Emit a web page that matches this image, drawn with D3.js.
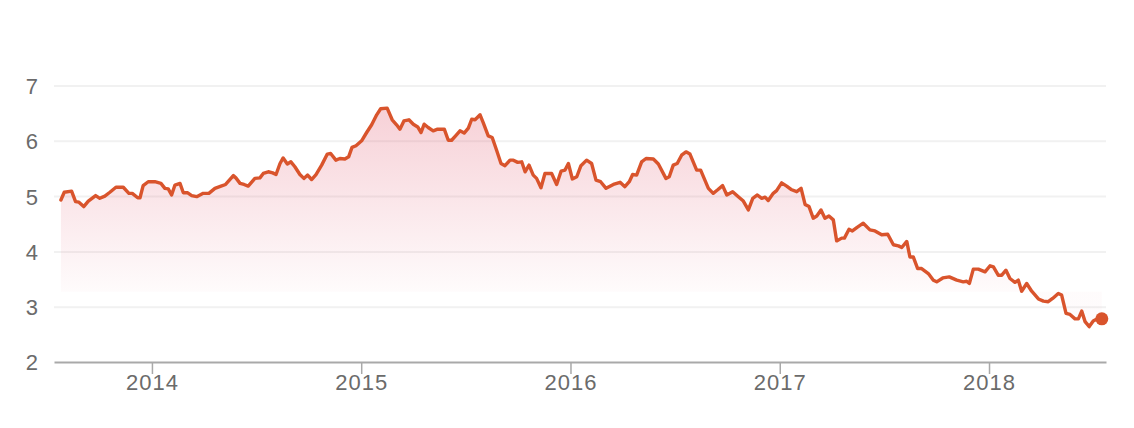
<!DOCTYPE html>
<html>
<head>
<meta charset="utf-8">
<script src="https://cdn.jsdelivr.net/npm/d3@7"></script>
<style>
    html, body { margin: 0; padding: 0; background: #fff; }
    svg { display: block; }
    .axis text {
        fill: #6b6b6b;
        font-family: "Liberation Sans", Arial, Helvetica, sans-serif;
        font-size: 22px;
        letter-spacing: 1px;
    }
</style>
</head>
<body>
<svg id="chart"></svg>
<script>
// =============================================================================
// DATA — decimal year / value
// =============================================================================

const years = [
    2013.565, 2013.581, 2013.616, 2013.635, 2013.651, 2013.674, 2013.696, 2013.731, 2013.751, 2013.775,
    2013.799, 2013.828, 2013.863, 2013.890, 2013.906, 2013.932, 2013.943, 2013.958, 2013.982, 2014.014,
    2014.043, 2014.062, 2014.078, 2014.094, 2014.110, 2014.134, 2014.150, 2014.171, 2014.190, 2014.214,
    2014.245, 2014.272, 2014.301, 2014.330, 2014.352, 2014.389, 2014.401, 2014.421, 2014.440, 2014.460,
    2014.492, 2014.516, 2014.532, 2014.556, 2014.577, 2014.593, 2014.612, 2014.627, 2014.647, 2014.664,
    2014.683, 2014.707, 2014.726, 2014.744, 2014.763, 2014.784, 2014.811, 2014.838, 2014.854, 2014.879,
    2014.898, 2014.922, 2014.940, 2014.956, 2014.975, 2015.002, 2015.026, 2015.050, 2015.074, 2015.093,
    2015.124, 2015.148, 2015.169, 2015.185, 2015.204, 2015.228, 2015.249, 2015.270, 2015.286, 2015.301,
    2015.320, 2015.344, 2015.365, 2015.397, 2015.416, 2015.432, 2015.451, 2015.472, 2015.492, 2015.512,
    2015.528, 2015.544, 2015.568, 2015.583, 2015.607, 2015.626, 2015.647, 2015.668, 2015.687, 2015.711,
    2015.727, 2015.748, 2015.767, 2015.783, 2015.802, 2015.822, 2015.838, 2015.859, 2015.878, 2015.910,
    2015.934, 2015.955, 2015.974, 2015.990, 2016.009, 2016.030, 2016.050, 2016.077, 2016.101, 2016.122,
    2016.144, 2016.170, 2016.205, 2016.237, 2016.260, 2016.281, 2016.297, 2016.316, 2016.340, 2016.361,
    2016.396, 2016.420, 2016.456, 2016.472, 2016.491, 2016.510, 2016.531, 2016.552, 2016.571, 2016.603,
    2016.622, 2016.659, 2016.682, 2016.702, 2016.727, 2016.747, 2016.775, 2016.802, 2016.826, 2016.850,
    2016.871, 2016.893, 2016.914, 2016.930, 2016.945, 2016.969, 2016.985, 2017.009, 2017.033, 2017.054,
    2017.081, 2017.102, 2017.121, 2017.140, 2017.160, 2017.177, 2017.197, 2017.216, 2017.235, 2017.256,
    2017.272, 2017.296, 2017.309, 2017.331, 2017.347, 2017.368, 2017.399, 2017.431, 2017.455, 2017.487,
    2017.516, 2017.543, 2017.567, 2017.583, 2017.607, 2017.622, 2017.638, 2017.659, 2017.678, 2017.710,
    2017.734, 2017.750, 2017.779, 2017.810, 2017.846, 2017.877, 2017.893, 2017.906, 2017.925, 2017.949,
    2017.981, 2018.005, 2018.021, 2018.044, 2018.061, 2018.081, 2018.100, 2018.124, 2018.140, 2018.156,
    2018.180, 2018.204, 2018.236, 2018.260, 2018.283, 2018.304, 2018.331, 2018.347, 2018.368, 2018.387,
    2018.411, 2018.427, 2018.443, 2018.459, 2018.479, 2018.498, 2018.522, 2018.539
];

const values = [
    4.93, 5.07, 5.09, 4.90, 4.89, 4.81, 4.91, 5.01, 4.96, 5.00,
    5.07, 5.16, 5.16, 5.05, 5.05, 4.97, 4.97, 5.19, 5.26, 5.26,
    5.23, 5.14, 5.13, 5.02, 5.20, 5.23, 5.06, 5.06, 5.01, 4.99,
    5.05, 5.05, 5.14, 5.18, 5.21, 5.37, 5.33, 5.23, 5.21, 5.18,
    5.32, 5.33, 5.41, 5.44, 5.42, 5.39, 5.59, 5.69, 5.58, 5.62,
    5.53, 5.39, 5.32, 5.38, 5.30, 5.39, 5.56, 5.76, 5.77, 5.65,
    5.68, 5.67, 5.71, 5.88, 5.91, 6.00, 6.15, 6.29, 6.47, 6.58,
    6.59, 6.38, 6.29, 6.21, 6.36, 6.38, 6.30, 6.25, 6.15, 6.30,
    6.24, 6.18, 6.21, 6.21, 6.01, 6.01, 6.09, 6.18, 6.14, 6.23,
    6.39, 6.38, 6.47, 6.33, 6.09, 6.06, 5.83, 5.59, 5.55, 5.65,
    5.65, 5.61, 5.62, 5.44, 5.56, 5.38, 5.32, 5.15, 5.41, 5.41,
    5.21, 5.45, 5.47, 5.59, 5.31, 5.35, 5.55, 5.65, 5.59, 5.29,
    5.26, 5.14, 5.21, 5.25, 5.17, 5.26, 5.39, 5.38, 5.62, 5.68,
    5.67, 5.58, 5.32, 5.35, 5.56, 5.59, 5.74, 5.80, 5.76, 5.47,
    5.47, 5.14, 5.05, 5.11, 5.19, 5.02, 5.08, 4.99, 4.91, 4.75,
    4.96, 5.02, 4.96, 4.98, 4.92, 5.05, 5.10, 5.24, 5.18, 5.12,
    5.08, 5.14, 4.85, 4.81, 4.60, 4.64, 4.75, 4.60, 4.64, 4.57,
    4.19, 4.24, 4.24, 4.40, 4.37, 4.43, 4.51, 4.39, 4.37, 4.30,
    4.31, 4.12, 4.10, 4.07, 4.18, 3.90, 3.90, 3.69, 3.69, 3.60,
    3.48, 3.45, 3.52, 3.54, 3.48, 3.45, 3.46, 3.42, 3.68, 3.68,
    3.63, 3.74, 3.72, 3.57, 3.57, 3.66, 3.51, 3.44, 3.48, 3.28,
    3.42, 3.28, 3.14, 3.10, 3.09, 3.15, 3.24, 3.21, 2.88, 2.86,
    2.78, 2.78, 2.92, 2.73, 2.64, 2.74, 2.79, 2.78
];

const xTicks = [2014, 2015, 2016, 2017, 2018];
const xTickLabels = ['2014', '2015', '2016', '2017', '2018'];
const yTicks = [2, 3, 4, 5, 6, 7];

// =============================================================================
// CHART
// =============================================================================

const W = 1134, H = 428;
const margin = { top: 85.5, right: 28, bottom: 66, left: 54 };
const width = W - margin.left - margin.right;
const height = H - margin.top - margin.bottom;
const lineColor = '#d9542c';
const fillBase = 3.27;   // where the pink wash fades out

const points = years.map((yr, i) => ({ yr, v: values[i] }));

const svg = d3.select('#chart').attr('width', W).attr('height', H);
const g = svg.append('g').attr('transform', `translate(${margin.left},${margin.top})`);

const x = d3.scaleLinear().domain([2013.532, 2018.559]).range([0, width]);
const y = d3.scaleLinear().domain([2, 7]).range([height, 0]);

// Gradient under the line
const defs = svg.append('defs');
const grad = defs.append('linearGradient')
    .attr('id', 'wash')
    .attr('gradientUnits', 'userSpaceOnUse')
    .attr('x1', 0).attr('x2', 0)
    .attr('y1', y(d3.max(values))).attr('y2', y(fillBase));
grad.append('stop').attr('offset', '0%').attr('stop-color', 'rgb(222,70,95)').attr('stop-opacity', 0.25);
grad.append('stop').attr('offset', '100%').attr('stop-color', 'rgb(222,70,95)').attr('stop-opacity', 0.02);

// Grid lines + y labels
g.append('g')
    .attr('class', 'axis')
    .call(d3.axisLeft(y).tickValues(yTicks).tickSize(-width).tickPadding(15).tickFormat(d3.format('d')))
    .call(ax => ax.select('.domain').remove())
    .call(ax => ax.selectAll('.tick line')
        .attr('stroke', d => d === 2 ? 'none' : '#f1f1f1')
        .attr('stroke-width', 2))
    .call(ax => ax.selectAll('.tick text').attr('dy', '0.36em'));

// Area
const area = d3.area()
    .x(d => x(d.yr))
    .y0(y(fillBase))
    .y1(d => y(d.v));

g.append('path')
    .datum(points)
    .attr('fill', 'url(#wash)')
    .attr('d', area);

// X axis
g.append('g')
    .attr('class', 'axis')
    .attr('transform', `translate(0,${height})`)
    .call(d3.axisBottom(x).tickValues(xTicks).tickSize(12).tickSizeOuter(0).tickPadding(0)
        .tickFormat((d, i) => xTickLabels[i]))
    .call(ax => ax.select('.domain').attr('stroke', '#a9a9a9').attr('stroke-width', 2))
    .call(ax => ax.selectAll('.tick line').attr('stroke', '#a9a9a9').attr('stroke-width', 1.5));

// Line
const line = d3.line()
    .x(d => x(d.yr))
    .y(d => y(d.v));

g.append('path')
    .datum(points)
    .attr('fill', 'none')
    .attr('stroke', lineColor)
    .attr('stroke-width', 3.4)
    .attr('stroke-linejoin', 'round')
    .attr('stroke-linecap', 'round')
    .attr('d', line);

// Last-value dot
const last = points[points.length - 1];
g.append('circle')
    .attr('cx', x(last.yr))
    .attr('cy', y(last.v))
    .attr('r', 6.5)
    .attr('fill', lineColor);
</script>
</body>
</html>
